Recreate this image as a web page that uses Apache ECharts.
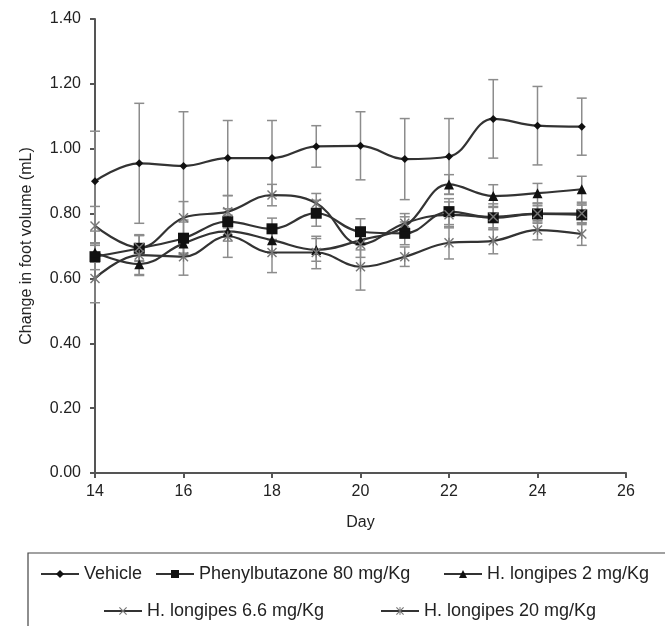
<!DOCTYPE html>
<html>
<head>
<meta charset="utf-8">
<script src="https://cdn.jsdelivr.net/npm/echarts@6/dist/echarts.min.js"></script>
<style>
html,body{margin:0;padding:0;background:#fff;}
#chart{width:665px;height:626px;}
</style>
</head>
<body>
<div id="chart"></div>
<script>
var days = [14, 15, 16, 17, 18, 19, 20, 21, 22, 23, 24, 25];

var vehicle = [0.900, 0.955, 0.947, 0.971, 0.971, 1.007, 1.009, 0.968, 0.976, 1.092, 1.071, 1.068];
var vehicleSd = [0.154, 0.185, 0.167, 0.116, 0.116, 0.064, 0.105, 0.125, 0.117, 0.121, 0.121, 0.088];

var phenyl = [0.667, 0.693, 0.724, 0.775, 0.753, 0.801, 0.744, 0.739, 0.806, 0.787, 0.799, 0.796];
var phenylSd = [0.040, 0.040, 0.050, 0.040, 0.033, 0.040, 0.040, 0.035, 0.040, 0.035, 0.025, 0.030];

var hl2 = [0.680, 0.644, 0.708, 0.745, 0.718, 0.688, 0.718, 0.760, 0.890, 0.854, 0.863, 0.875];
var hl2Sd = [0.030, 0.035, 0.030, 0.030, 0.040, 0.035, 0.030, 0.030, 0.030, 0.035, 0.030, 0.040];

var hl66 = [0.762, 0.695, 0.787, 0.806, 0.857, 0.832, 0.705, 0.770, 0.796, 0.790, 0.800, 0.800];
var hl66Sd = [0.060, 0.040, 0.050, 0.050, 0.033, 0.030, 0.040, 0.030, 0.040, 0.040, 0.030, 0.030];

var hl20 = [0.600, 0.672, 0.667, 0.730, 0.680, 0.680, 0.636, 0.667, 0.710, 0.716, 0.749, 0.737];
var hl20Sd = [0.075, 0.060, 0.057, 0.065, 0.062, 0.050, 0.072, 0.030, 0.050, 0.040, 0.030, 0.035];

var names = ['Vehicle', 'Phenylbutazone 80 mg/Kg', 'H. longipes 2 mg/Kg', 'H. longipes 6.6 mg/Kg', 'H. longipes 20 mg/Kg'];

var FONT = '"Liberation Sans", Arial, sans-serif';
var crossPath = 'path://M0,1L1,0L5,4L9,0L10,1L6,5L10,9L9,10L5,6L1,10L0,9L4,5Z';
var starPath = 'path://M0,1L1,0L5,4L9,0L10,1L6,5L10,9L9,10L5,6L1,10L0,9L4,5Z M4.4,0L5.6,0L5.6,10L4.4,10Z';

function pairs(vals){
	return days.map(function(d, i){ return [d, vals[i]]; });
}
function bars(vals, sd){
	return days.map(function(d, i){ return [d, vals[i] - sd[i], vals[i] + sd[i]]; });
}

function renderBar(params, api){
	var x = api.value(0);
	var lo = api.coord([x, api.value(1)]);
	var hi = api.coord([x, api.value(2)]);
	var w = 5;
	var st = {stroke: '#8c8c8c', lineWidth: 1.5};
	return {
		type: 'group',
		children: [
			{type: 'line', shape: {x1: lo[0], y1: lo[1], x2: hi[0], y2: hi[1]}, style: st},
			{type: 'line', shape: {x1: lo[0] - w, y1: lo[1], x2: lo[0] + w, y2: lo[1]}, style: st},
			{type: 'line', shape: {x1: hi[0] - w, y1: hi[1], x2: hi[0] + w, y2: hi[1]}, style: st}
		]
	};
}

function lineSeries(name, vals, symbol, size, color){
	return {
		name: name,
		type: 'line',
		data: pairs(vals),
		smooth: 0.4,
		symbol: symbol,
		symbolSize: size,
		z: 3,
		lineStyle: {color: '#333', width: 2.2},
		itemStyle: {color: color},
		emphasis: {disabled: true}
	};
}

function barSeries(vals, sd){
	return {
		type: 'custom',
		renderItem: renderBar,
		data: bars(vals, sd),
		z: 2,
		silent: true
	};
}

function legendAt(name, left, top){
	return {
		data: [name],
		left: left,
		top: top,
		itemWidth: 38,
		itemHeight: 10,
		selectedMode: false,
		textStyle: {fontFamily: FONT, fontSize: 18, color: '#222'}
	};
}

var myChart = echarts.init(document.getElementById('chart'));
var option = {
	animation: false,
	backgroundColor: '#fff',
	grid: {left: 95, right: 39, top: 19, bottom: 153},
	xAxis: {
		type: 'value',
		min: 14, max: 26, interval: 2,
		name: 'Day',
		nameLocation: 'middle',
		nameGap: 42,
		nameTextStyle: {fontFamily: FONT, fontSize: 16, color: '#222'},
		axisLine: {lineStyle: {color: '#555', width: 2}},
		axisTick: {inside: false, length: 5, lineStyle: {color: '#555', width: 2}},
		axisLabel: {fontFamily: FONT, fontSize: 16, color: '#222', margin: 11},
		splitLine: {show: false}
	},
	yAxis: {
		type: 'value',
		min: 0, max: 1.4, interval: 0.2,
		name: 'Change in foot volume (mL)',
		nameLocation: 'middle',
		nameGap: 60,
		nameTextStyle: {fontFamily: FONT, fontSize: 16, color: '#222'},
		axisLine: {show: true, lineStyle: {color: '#555', width: 2}},
		axisTick: {show: true, inside: false, length: 5, lineStyle: {color: '#555', width: 2}},
		axisLabel: {fontFamily: FONT, fontSize: 16, color: '#222', margin: 14,
			formatter: function(v){ return v.toFixed(2); }},
		splitLine: {show: false}
	},
	legend: [
		legendAt(names[0], 35, 560),
		legendAt(names[1], 150, 560),
		legendAt(names[2], 438, 560),
		legendAt(names[3], 98, 597),
		legendAt(names[4], 375, 597)
	],
	graphic: [{
		type: 'rect',
		shape: {x: 28, y: 553, width: 700, height: 120},
		style: {fill: 'none', stroke: '#444', lineWidth: 1.2},
		silent: true
	}],
	series: [
		barSeries(vehicle, vehicleSd),
		barSeries(phenyl, phenylSd),
		barSeries(hl2, hl2Sd),
		barSeries(hl66, hl66Sd),
		barSeries(hl20, hl20Sd),
		lineSeries(names[0], vehicle, 'diamond', 8, '#111'),
		lineSeries(names[1], phenyl, 'rect', 11, '#111'),
		lineSeries(names[2], hl2, 'triangle', 10, '#111'),
		lineSeries(names[3], hl66, crossPath, 10, '#777'),
		lineSeries(names[4], hl20, starPath, 10, '#777')
	]
};
myChart.setOption(option);
</script>
</body>
</html>
